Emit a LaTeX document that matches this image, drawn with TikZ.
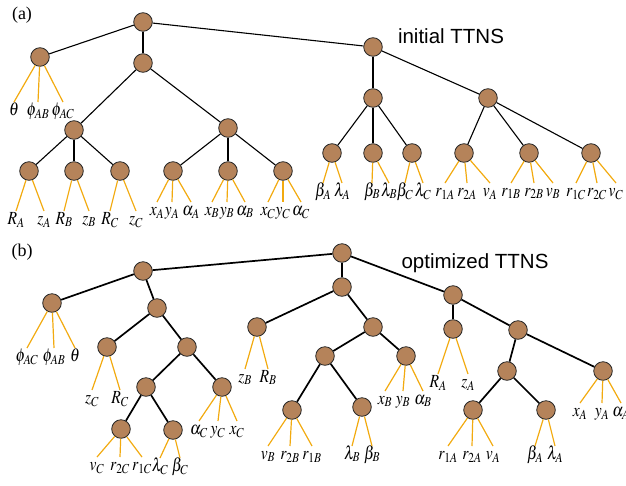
\documentclass[tikz,border=0pt]{standalone}
\usepackage{mathptmx}
\usepackage{graphicx}
\usepackage[no-math]{fontspec}
\setmainfont{Liberation Serif}
\newfontfamily\helv{Liberation Sans}
\definecolor{bead}{RGB}{181,131,90}
\definecolor{legcol}{RGB}{242,170,15}
\tikzset{
  tn/.style={circle, draw=black!85, line width=0.8pt, fill=bead, minimum size=18.6pt, inner sep=0pt},
  edgeA/.style={line width=1.1pt, black},
  edgeB/.style={line width=1.7pt, black},
  leg/.style={line width=1.2pt, legcol},
  lbl/.style={anchor=north, inner sep=0.5pt, text height=12.5pt, text depth=3pt,
    font=\fontsize{18.5}{22}\selectfont},
  caption/.style={font=\helv\fontsize{20.5}{24}\selectfont, inner sep=0pt},
  tag/.style={font=\fontsize{18}{21}\selectfont, inner sep=0pt}
}
% #1 parent node, #2 top of the labels, #3 list of x/label
\newcommand\leafset[3]{%
  \foreach \lx/\lbltext [count=\i] in {#3} {
    \node[lbl] (#1-l\i) at (\lx,#2) {\scalebox{0.84}[1]{$\lbltext$}};
    \draw[leg] (#1) -- (#1-l\i.north);
  }}
\begin{document}
\begin{tikzpicture}[x=1pt,y=-1pt]
\useasboundingbox (0,0) rectangle (626,485);

% ---------- (a) initial TTNS ----------
\node[tag] (ta) at (22,15) {(a)};
\node[caption] (capa) at (451,36) {initial TTNS};

\node[tn] (A0) at (143,22) {};
\node[tn] (A1) at (40,57) {};
\node[tn] (A2) at (143,63) {};
\node[tn] (A3) at (373,47) {};
\node[tn] (A21) at (74,130) {};
\node[tn] (A22) at (228,128) {};
\node[tn] (A211) at (29,171) {};
\node[tn] (A212) at (74,171) {};
\node[tn] (A213) at (120,171) {};
\node[tn] (A221) at (173,171) {};
\node[tn] (A222) at (228,171) {};
\node[tn] (A223) at (283,171) {};
\node[tn] (A31) at (373,98) {};
\node[tn] (A32) at (488,98) {};
\node[tn] (A311) at (332,153) {};
\node[tn] (A312) at (373,153) {};
\node[tn] (A313) at (412,153) {};
\node[tn] (A321) at (464,153) {};
\node[tn] (A322) at (529,153) {};
\node[tn] (A323) at (591,153) {};

\foreach \p/\c in {A0/A1, A0/A2, A0/A3, A2/A21, A2/A22,
  A21/A211, A21/A212, A21/A213, A22/A221, A22/A222, A22/A223,
  A3/A31, A3/A32, A31/A311, A31/A312, A31/A313,
  A32/A321, A32/A322, A32/A323}
  \draw[edgeA] (\p) -- (\c);

\leafset{A1}{102}{14/\theta, 38/\phi_{AB}, 63/\phi_{AC}}
\leafset{A211}{211}{16/R_A, 44/z_A}
\leafset{A212}{211}{64/R_B, 89/z_B}
\leafset{A213}{211}{110/R_C, 136/z_C}
\leafset{A221}{202}{157/x_A, 172/y_A, 191/\alpha_A}
\leafset{A222}{202}{212/x_B, 227/y_B, 245/\alpha_B}
\leafset{A223}{202}{268/x_C, 283/y_C, 301/\alpha_C}
\leafset{A311}{183}{323/\beta_A, 342/\lambda_A}
\leafset{A312}{183}{372/\beta_B, 389/\lambda_B}
\leafset{A313}{183}{405/\beta_C, 423/\lambda_C}
\leafset{A321}{183}{445/r_{1A}, 467/r_{2A}, 490/v_A}
\leafset{A322}{183}{511/r_{1B}, 534/r_{2B}, 553/v_B}
\leafset{A323}{183}{576/r_{1C}, 597/r_{2C}, 616/v_C}

% ---------- (b) optimized TTNS ----------
\node[tag] (tb) at (22,252) {(b)};
\node[caption] (capb) at (475,263) {optimized TTNS};

\node[tn] (B0) at (143,271) {};
\node[tn] (B1) at (52,303) {};
\node[tn] (B2) at (157,308) {};
\node[tn] (B21) at (107,347) {};
\node[tn] (B22) at (187,347) {};
\node[tn] (B221) at (146,387) {};
\node[tn] (B222) at (222,387) {};
\node[tn] (B2211) at (121,429) {};
\node[tn] (B2212) at (173,430) {};
\node[tn] (BR) at (342,253) {};
\node[tn] (BR1) at (342,287) {};
\node[tn] (BR11) at (257,327) {};
\node[tn] (BR12) at (373,327) {};
\node[tn] (BR121) at (325,356) {};
\node[tn] (BR122) at (406,356) {};
\node[tn] (BR1211) at (292,410) {};
\node[tn] (BR1212) at (362,407) {};
\node[tn] (BR2) at (453,295) {};
\node[tn] (BR21) at (453,329) {};
\node[tn] (BR22) at (518,330) {};
\node[tn] (BR221) at (507,371) {};
\node[tn] (BR222) at (603,371) {};
\node[tn] (BR2211) at (473,410) {};
\node[tn] (BR2212) at (546,410) {};

\foreach \p/\c in {B0/B1, B0/B2, B0/BR, B2/B21, B2/B22,
  B22/B221, B22/B222, B221/B2211, B221/B2212,
  BR/BR1, BR/BR2, BR1/BR11, BR1/BR12, BR12/BR121, BR12/BR122,
  BR121/BR1211, BR121/BR1212, BR2/BR21, BR2/BR22,
  BR22/BR221, BR22/BR222, BR221/BR2211, BR221/BR2212}
  \draw[edgeB] (\p) -- (\c);

\leafset{B1}{348}{27/\phi_{AC}, 54/\phi_{AB}, 75/\theta}
\leafset{B21}{390}{92/z_C, 120/R_C}
\leafset{B2211}{457}{97/v_C, 120/r_{2C}, 142/r_{1C}}
\leafset{B2212}{458}{160/\lambda_C, 180/\beta_C}
\leafset{B222}{421}{199/\alpha_C, 218/y_C, 237/x_C}
\leafset{BR11}{369}{245/z_B, 268/R_B}
\leafset{BR1211}{446}{268/v_B, 290/r_{2B}, 312/r_{1B}}
\leafset{BR1212}{446}{352/\lambda_B, 372/\beta_B}
\leafset{BR122}{391}{385/x_B, 403/y_B, 423/\alpha_B}
\leafset{BR21}{374}{438/R_A, 468/z_A}
\leafset{BR2211}{446}{448/r_{1A}, 472/r_{2A}, 493/v_A}
\leafset{BR2212}{446}{535/\beta_A, 555/\lambda_A}
\leafset{BR222}{403}{580/x_A, 602/y_A, 621/\alpha_A}
\end{tikzpicture}
\end{document}
